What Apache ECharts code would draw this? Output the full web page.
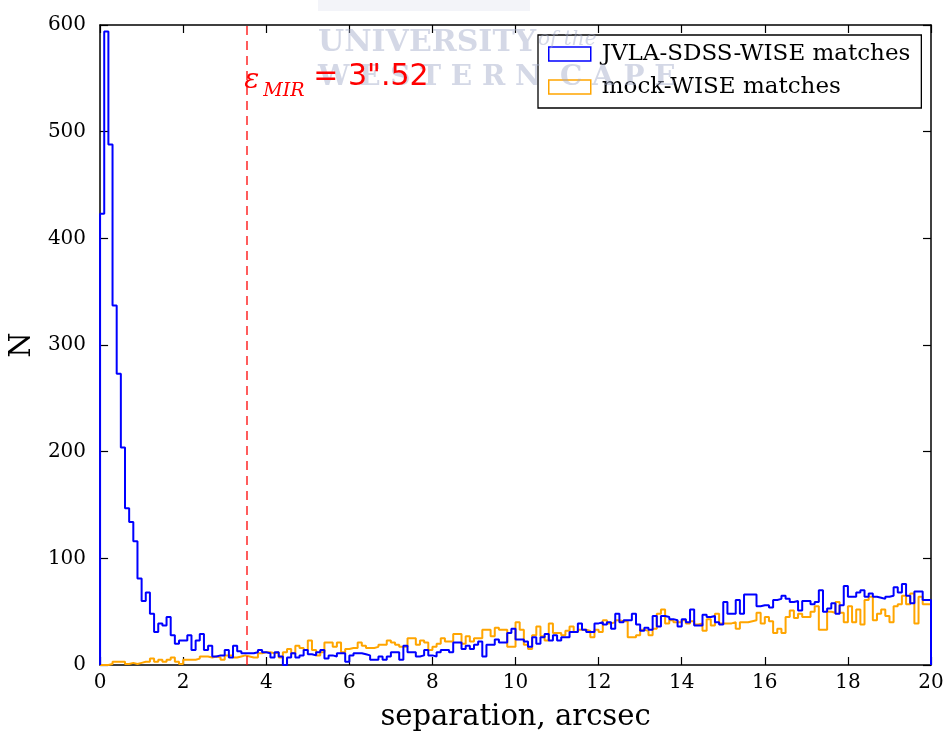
<!DOCTYPE html>
<html>
<head>
<meta charset="utf-8">
<script src="https://cdn.jsdelivr.net/npm/echarts@6/dist/echarts.min.js"></script>
<style>
  html, body { margin: 0; padding: 0; background: #fff; }
  #chart { width: 948px; height: 737px; }
</style>
</head>
<body>
<div id="chart"></div>
<script>
// ---- data ----
const binWidth = 0.1;          // arcsec per histogram bin
const xMin = 0, xMax = 20, xInterval = 2;
const yMin = 0, yMax = 600, yInterval = 100;
const seriesNames = ['JVLA-SDSS-WISE matches', 'mock-WISE matches'];
const epsMIR = 3.52;

const jvlaCounts = [
  423, 594, 488, 337, 273, 204, 147, 134, 116, 81,
  60, 68, 48, 31, 39, 37, 45, 28, 20, 23,
  23, 28, 14, 23, 29, 14, 18, 8, 9, 9,
  14, 7, 18, 13, 11, 11, 11, 12, 14, 12,
  11, 7, 12, 8, 0, 7, 11, 7, 9, 14,
  10, 9, 12, 14, 6, 9, 8, 11, 11, 3,
  9, 11, 11, 10, 9, 5, 5, 8, 5, 8,
  12, 12, 5, 18, 12, 12, 8, 9, 14, 9,
  8, 12, 14, 14, 12, 21, 21, 15, 18, 15,
  19, 22, 8, 19, 19, 24, 21, 21, 30, 34,
  24, 24, 22, 17, 26, 20, 26, 29, 23, 28,
  23, 26, 26, 31, 31, 39, 33, 31, 31, 39,
  40, 38, 40, 34, 48, 40, 42, 42, 48, 38,
  32, 35, 33, 46, 36, 46, 45, 43, 42, 36,
  43, 40, 52, 37, 37, 47, 45, 46, 40, 38,
  59, 48, 48, 61, 48, 66, 66, 66, 55, 56,
  56, 54, 61, 62, 65, 62, 59, 60, 51, 60,
  60, 57, 59, 70, 50, 53, 58, 48, 56, 74,
  64, 64, 68, 70, 64, 67, 64, 63, 62, 64,
  65, 73, 68, 76, 65, 58, 69, 69, 61, 61
];

const mockCounts = [
  0, 0, 1, 3, 3, 3, 1, 2, 1, 2,
  3, 3, 6, 3, 5, 3, 5, 7, 3, 1,
  5, 5, 5, 6, 8, 8, 7, 8, 7, 5,
  9, 9, 7, 8, 9, 8, 7, 7, 11, 12,
  12, 11, 12, 7, 12, 15, 11, 18, 16, 14,
  23, 14, 9, 12, 21, 21, 17, 21, 12, 15,
  16, 16, 21, 18, 16, 16, 17, 19, 19, 23,
  21, 19, 17, 17, 25, 25, 19, 23, 21, 14,
  17, 20, 25, 22, 22, 29, 29, 20, 27, 22,
  25, 25, 33, 33, 27, 35, 33, 33, 17, 17,
  40, 33, 19, 15, 28, 36, 27, 23, 39, 30,
  30, 28, 32, 36, 31, 33, 33, 32, 26, 33,
  31, 42, 39, 40, 42, 41, 41, 26, 26, 28,
  33, 32, 28, 34, 48, 52, 39, 42, 40, 40,
  42, 39, 41, 38, 39, 32, 43, 37, 48, 39,
  39, 39, 40, 34, 40, 40, 41, 42, 49, 39,
  45, 41, 30, 34, 30, 45, 51, 44, 48, 45,
  45, 50, 55, 33, 33, 50, 49, 59, 49, 40,
  55, 40, 52, 38, 61, 64, 42, 48, 52, 46,
  40, 55, 57, 65, 57, 67, 39, 64, 57, 57
];

// ---- build step outline (matplotlib histtype='step') ----
function stepOutline(counts) {
  const pts = [[0, 0]];
  counts.forEach((c, i) => pts.push([i * binWidth, c]));
  const end = counts.length * binWidth;
  pts.push([end, counts[counts.length - 1]]);
  pts.push([end, 0]);
  return pts;
}

const SERIF = "'DejaVu Serif', serif";
const BLUE = '#0000ff', ORANGE = '#ffa500';

const chart = echarts.init(document.getElementById('chart'), null, { renderer: 'canvas' });

const axisCommon = {
  axisLine: { show: true, onZero: false, lineStyle: { color: '#000', width: 1.5 } },
  axisTick: { show: true, inside: true, length: 8, lineStyle: { color: '#000', width: 1.2 } },
  splitLine: { show: false },
};

const option = {
  backgroundColor: '#fff',
  animation: false,
  grid: { left: 99, right: 17, top: 25, bottom: 67, show: false },
  xAxis: [
    Object.assign({
      type: 'value', min: xMin, max: xMax, interval: xInterval, position: 'bottom',
      axisLabel: { color: '#000', fontFamily: SERIF, fontSize: 20, margin: 8 },
      name: 'separation, arcsec', nameLocation: 'middle', nameGap: 38,
      nameTextStyle: { color: '#000', fontFamily: SERIF, fontSize: 29 }
    }, axisCommon),
    Object.assign({
      type: 'value', min: xMin, max: xMax, interval: xInterval, position: 'top',
      axisLabel: { show: false }
    }, axisCommon)
  ],
  yAxis: [
    Object.assign({
      type: 'value', min: yMin, max: yMax, interval: yInterval, position: 'left',
      axisLabel: { color: '#000', fontFamily: SERIF, fontSize: 20, margin: 14 },
      name: 'N', nameLocation: 'middle', nameGap: 52, nameRotate: 90,
      nameTextStyle: { color: '#000', fontFamily: SERIF, fontSize: 29 }
    }, axisCommon),
    Object.assign({
      type: 'value', min: yMin, max: yMax, interval: yInterval, position: 'right',
      axisLabel: { show: false }
    }, axisCommon)
  ],
  legend: {
    orient: 'vertical', left: 538, top: 35,
    padding: [7, 11, 9, 10], itemGap: 9,
    itemWidth: 42, itemHeight: 14,
    backgroundColor: 'rgba(255,255,255,0.8)',
    borderColor: '#000', borderWidth: 1.3, borderRadius: 0,
    textStyle: { color: '#000', fontFamily: SERIF, fontSize: 23, lineHeight: 24, padding: [0, 0, 0, 6] },
    data: [
      { name: seriesNames[0], icon: 'rect', itemStyle: { color: 'rgba(0,0,0,0)', borderColor: BLUE, borderWidth: 1.5 } },
      { name: seriesNames[1], icon: 'rect', itemStyle: { color: 'rgba(0,0,0,0)', borderColor: ORANGE, borderWidth: 1.5 } }
    ]
  },
  series: [
    {
      name: seriesNames[1], type: 'line', step: 'end', symbol: 'none',
      data: stepOutline(mockCounts), z: 3,
      lineStyle: { color: ORANGE, width: 2 }, itemStyle: { color: ORANGE }
    },
    {
      name: seriesNames[0], type: 'line', step: 'end', symbol: 'none',
      data: stepOutline(jvlaCounts), z: 4,
      lineStyle: { color: BLUE, width: 2 }, itemStyle: { color: BLUE },
      markLine: {
        silent: true, symbol: ['none', 'none'], label: { show: false },
        lineStyle: { color: 'rgba(255,0,0,0.8)', width: 1.6, type: [9, 6] },
        data: [{ xAxis: epsMIR }]
      }
    }
  ]
};
chart.setOption(option);

// annotation + watermark
const ax = chart.convertToPixel({ xAxisIndex: 0 }, epsMIR);
const wm = 'rgba(160,168,200,0.45)';
chart.setOption({
  graphic: [
    { type: 'rect', shape: { x: 318, y: 0, width: 212, height: 11 }, style: { fill: 'rgba(190,196,220,0.18)' }, z: 100, silent: true },
    { type: 'text', left: 318, top: 28, z: 100, silent: true,
      style: { text: 'UNIVERSITY', font: "bold 30px 'DejaVu Serif', serif", fill: wm } },
    { type: 'text', left: 538, top: 30, z: 100, silent: true,
      style: { text: 'of the', font: "italic 20px 'DejaVu Serif', serif", fill: wm } },
    { type: 'text', left: 318, top: 64, z: 100, silent: true,
      style: { text: 'W E S T E R N  C A P E', font: "bold 28px 'DejaVu Serif', serif", fill: wm } },
    { type: 'text', x: ax - 2, y: 67, z: 110, silent: true,
      style: { text: 'ε', font: "italic 28px 'DejaVu Serif', serif", fill: '#ff0000' } },
    { type: 'text', x: ax + 17, y: 82, z: 110, silent: true,
      style: { text: 'MIR', font: "italic 19px 'DejaVu Serif', serif", fill: '#ff0000' } },
    { type: 'text', x: ax + 67, y: 62, z: 110, silent: true,
      style: { text: '= 3".52', font: "30px 'DejaVu Sans', sans-serif", fill: '#ff0000' } }
  ]
});
</script>
</body>
</html>
